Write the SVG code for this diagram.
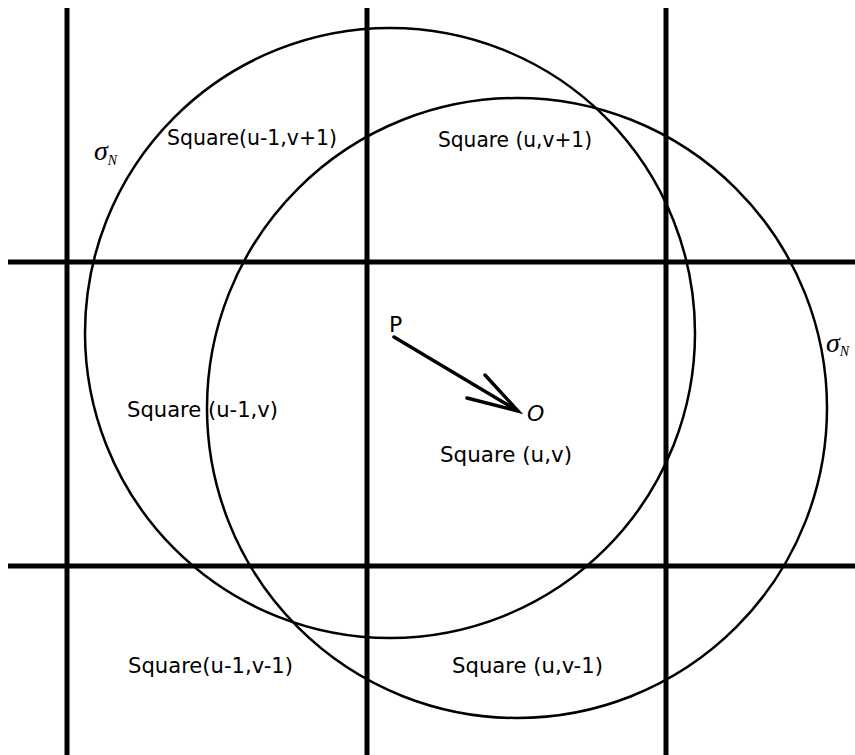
<svg xmlns="http://www.w3.org/2000/svg" width="855" height="755" viewBox="0 0 855 755">
<style>
.grid{stroke:#000;stroke-width:5;fill:none}
.circ{stroke:#000;stroke-width:2.5;fill:none}
.lbl{font-family:"DejaVu Sans","Open Sans",sans-serif;font-size:22px;fill:#000}
.sig{font-family:"Liberation Serif","DejaVu Serif",serif;font-style:italic;fill:#000}
</style>
<rect width="855" height="755" fill="#fff"/>
<g id="grid">
<line class="grid" x1="67" y1="8" x2="67" y2="755"/>
<line class="grid" x1="367" y1="8" x2="367" y2="755"/>
<line class="grid" x1="666" y1="8" x2="666" y2="755"/>
<line class="grid" x1="8" y1="262" x2="855" y2="262"/>
<line class="grid" x1="8" y1="566" x2="855" y2="566"/>
</g>
<g id="circle1"><circle class="circ" cx="390" cy="333" r="305"/></g>
<g id="circle2"><circle class="circ" cx="517" cy="408" r="310"/></g>
<g id="labels">
<text class="lbl" x="167" y="145" textLength="170" lengthAdjust="spacingAndGlyphs">Square(u-1,v+1)</text>
<text class="lbl" x="438" y="147" textLength="154" lengthAdjust="spacingAndGlyphs">Square (u,v+1)</text>
<text class="lbl" x="127" y="417" textLength="151" lengthAdjust="spacingAndGlyphs">Square (u-1,v)</text>
<text class="lbl" x="440" y="462" textLength="132" lengthAdjust="spacingAndGlyphs">Square (u,v)</text>
<text class="lbl" x="128" y="673" textLength="165" lengthAdjust="spacingAndGlyphs">Square(u-1,v-1)</text>
<text class="lbl" x="452" y="673" textLength="151" lengthAdjust="spacingAndGlyphs">Square (u,v-1)</text>
<text class="lbl" x="389" y="332">P</text>
<text class="lbl" x="527" y="421" font-style="italic">O</text>
<text class="sig" x="94" y="160" font-size="28">σ<tspan font-size="14" dy="5">N</tspan></text>
<text class="sig" x="826" y="352" font-size="28">σ<tspan font-size="14" dy="4">N</tspan></text>
</g>
<g id="connectors">
<path d="M394 337 L518 411 M467 398 L518 411 L485 375" stroke="#000" stroke-width="3.5" fill="none" stroke-linecap="round"/>
</g>
</svg>
